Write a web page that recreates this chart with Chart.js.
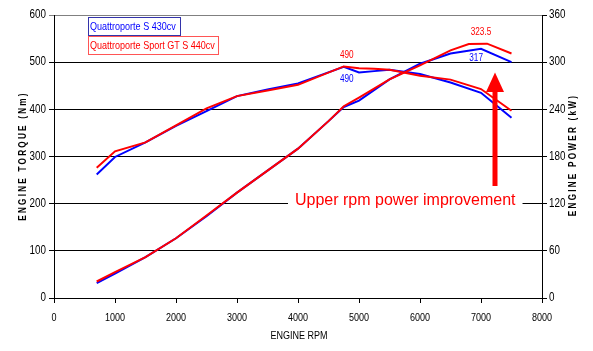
<!DOCTYPE html>
<html>
<head>
<meta charset="utf-8">
<script src="https://cdn.jsdelivr.net/npm/chart.js@4.4.0/dist/chart.umd.min.js"></script>
<style>
  html, body { margin: 0; padding: 0; background: #fff; }
  #wrap { width: 593px; height: 351px; }
</style>
</head>
<body>
<div id="wrap"><canvas id="chart" width="593" height="351"></canvas></div>
<script>
// engine rpm for the torque curves
const rpmTorque = [700, 1000, 1500, 2000, 2500, 3000, 3500, 4000, 4750, 5000, 5250, 5500, 6000, 6500, 7000, 7500];
const torqueS = [262, 299, 330, 365, 396, 428, 442, 455, 490, 478, 481, 484, 475, 457, 435, 382];
const torqueGT = [276, 311, 330, 366, 402, 428, 440, 452, 491, 487, 486, 484, 471, 463, 443, 397];

// power curves (kW)
const rpmPowerS = [700, 1000, 1500, 2000, 2500, 3000, 3500, 4000, 4500, 4750, 5000, 5500, 6000, 6500, 7000, 7500];
const powerS = [19, 31, 52, 76, 104, 134, 162, 190, 225, 243, 251, 278, 298, 311, 317, 300];
const rpmPowerGT = [700, 1000, 1500, 2000, 2500, 3000, 3500, 4000, 4500, 4750, 5000, 5500, 6000, 6500, 6800, 7100, 7500];
const powerGT = [21, 33, 52, 76, 105, 134, 162, 190, 225, 244, 255, 278, 296, 315, 323, 323.5, 311];

const legendLabels = ["Quattroporte S 430cv", "Quattroporte Sport GT S 440cv"];
const xTitle = "ENGINE RPM";
const yTitle = "ENGINE TORQUE (Nm)";
const y1Title = "ENGINE POWER (kW)";
const noteText = "Upper rpm power improvement";

const BLUE = "#0000ff";
const RED = "#ff0000";
const SANS = "'Liberation Sans', Arial, sans-serif";

function pts(xs, ys) {
  return xs.map((x, i) => ({ x: x, y: ys[i] }));
}

// the original uses a narrow font, so squeeze Arial-like text sideways
function narrowText(c, text, x, y, align, font, color) {
  c.save();
  c.font = font;
  c.fillStyle = color;
  c.textAlign = align;
  c.textBaseline = "middle";
  c.translate(x, y);
  c.scale(0.82, 1);
  c.fillText(text, 0, 0);
  c.restore();
}

const extras = {
  id: "extras",
  afterDraw(chart) {
    const c = chart.ctx;
    const x = chart.scales.x;
    const y = chart.scales.y;
    const y1 = chart.scales.y1;
    c.save();

    // tick labels
    x.ticks.forEach((t) => {
      narrowText(c, String(t.value), x.getPixelForValue(t.value), 318, "center", "11px " + SANS, "#000");
    });
    y.ticks.forEach((t) => {
      narrowText(c, String(t.value), 46, y.getPixelForValue(t.value), "right", "12px " + SANS, "#000");
    });
    y1.ticks.forEach((t) => {
      narrowText(c, String(t.value), 549, y1.getPixelForValue(t.value), "left", "12px " + SANS, "#000");
    });

    // legend boxes
    c.fillStyle = "#fff";
    c.lineWidth = 1;
    c.fillRect(88, 17.5, 92, 18);
    c.strokeStyle = "#3333aa";
    c.strokeRect(88.5, 17.5, 92, 18);
    c.fillRect(88, 36.5, 130, 18);
    c.strokeStyle = "#ff5555";
    c.strokeRect(88.5, 36.5, 130, 18);
    narrowText(c, legendLabels[0], 90, 27, "left", "11px " + SANS, BLUE);
    narrowText(c, legendLabels[1], 90, 46, "left", "11px " + SANS, RED);

    // peak labels
    const f10 = "10px " + SANS;
    narrowText(c, "490", x.getPixelForValue(4800), y.getPixelForValue(491) - 11, "center", f10, RED);
    narrowText(c, "323.5", x.getPixelForValue(7000), y1.getPixelForValue(323.5) - 11, "center", f10, RED);
    narrowText(c, "490", x.getPixelForValue(4800), y.getPixelForValue(491) + 13, "center", f10, BLUE);
    narrowText(c, "317", x.getPixelForValue(6920), y1.getPixelForValue(317) + 9, "center", f10, BLUE);

    // note with white background over the grid line
    c.font = "16px " + SANS;
    const tw = c.measureText(noteText).width;
    const ny = y.getPixelForValue(200) - 3;
    c.fillStyle = "#fff";
    c.fillRect(288, ny - 10, tw + 14, 20);
    c.fillStyle = RED;
    c.textAlign = "left";
    c.textBaseline = "middle";
    c.fillText(noteText, 295, ny);

    // arrow
    const ax = 495;
    c.fillStyle = RED;
    c.fillRect(ax - 2.5, 91, 5, 95);
    c.beginPath();
    c.moveTo(ax, 72.5);
    c.lineTo(ax + 9, 92);
    c.lineTo(ax - 9, 92);
    c.closePath();
    c.fill();

    // axis titles
    c.fillStyle = "#000";
    c.font = "bold 10px " + SANS;
    c.letterSpacing = "2.7px";
    c.textAlign = "center";
    c.textBaseline = "middle";
    c.save();
    c.translate(23, 156);
    c.rotate(-Math.PI / 2);
    c.scale(0.82, 1);
    c.fillText(yTitle, 0, 0);
    c.restore();
    c.save();
    c.translate(573, 155);
    c.rotate(-Math.PI / 2);
    c.scale(0.82, 1);
    c.fillText(y1Title, 0, 0);
    c.restore();
    c.letterSpacing = "0px";
    narrowText(c, xTitle, 299, 336, "center", "11px " + SANS, "#000");

    c.restore();
  }
};

const ctx = document.getElementById("chart").getContext("2d");
const myChart = new Chart(ctx, {
  type: "line",
  data: {
    datasets: [
      { label: legendLabels[1] + " torque", data: pts(rpmTorque, torqueGT), borderColor: RED, yAxisID: "y" },
      { label: legendLabels[1] + " power", data: pts(rpmPowerGT, powerGT), borderColor: RED, yAxisID: "y1" },
      { label: legendLabels[0] + " torque", data: pts(rpmTorque, torqueS), borderColor: BLUE, yAxisID: "y" },
      { label: legendLabels[0] + " power", data: pts(rpmPowerS, powerS), borderColor: BLUE, yAxisID: "y1" },
    ],
  },
  options: {
    responsive: false,
    animation: false,
    devicePixelRatio: 1,
    layout: { padding: { top: 15, left: 0, right: 0, bottom: 0 } },
    elements: {
      line: { borderWidth: 2, tension: 0, fill: false },
      point: { radius: 0, hoverRadius: 0 },
    },
    plugins: {
      legend: { display: false },
      tooltip: { enabled: false },
    },
    scales: {
      x: {
        type: "linear",
        min: 0,
        max: 8000,
        afterFit: (s) => { s.height = 53; },
        ticks: { stepSize: 1000, display: false },
        grid: { drawOnChartArea: false, drawTicks: true, tickLength: 5, color: "#000" },
        border: { color: "#000", width: 1 },
      },
      y: {
        position: "left",
        min: 0,
        max: 600,
        afterFit: (s) => { s.width = 54; },
        ticks: { stepSize: 100, display: false },
        grid: {
          color: (c) => (c.tick && c.tick.value === 600 ? "#808080" : "#000"),
          tickLength: 5,
          lineWidth: 1,
        },
        border: { color: "#000", width: 1 },
      },
      y1: {
        position: "right",
        min: 0,
        max: 360,
        afterFit: (s) => { s.width = 51; },
        ticks: { stepSize: 60, display: false },
        grid: { drawOnChartArea: false, tickLength: 5, color: "#000" },
        border: { color: "#000", width: 1 },
      },
    },
  },
  plugins: [extras],
});
</script>
</body>
</html>
